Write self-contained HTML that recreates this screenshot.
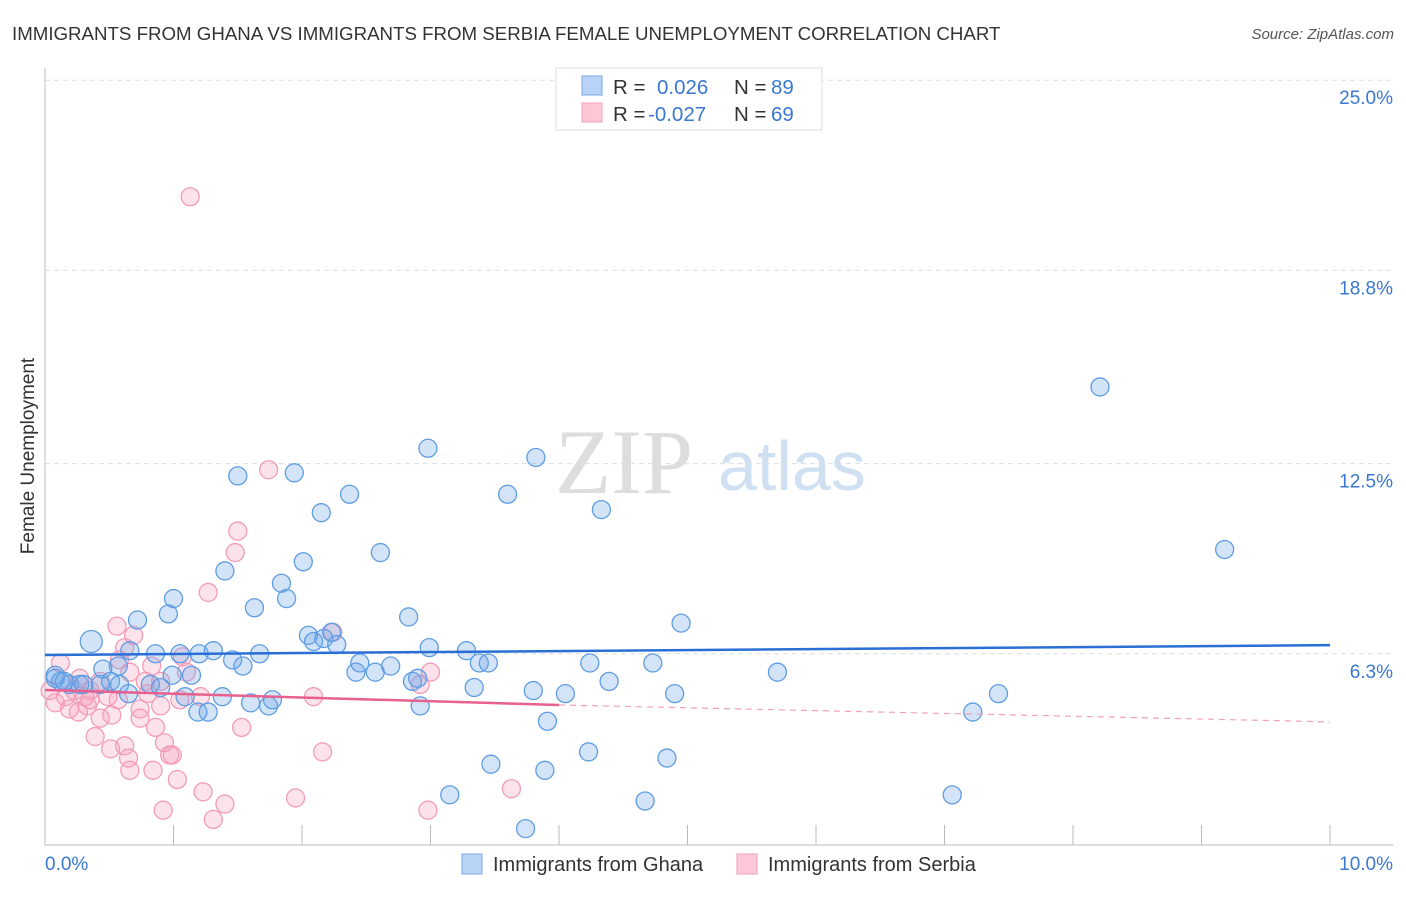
<!DOCTYPE html>
<html><head><meta charset="utf-8"><style>
body{margin:0;background:#fff;font-family:"Liberation Sans",sans-serif}
</style></head><body>
<svg width="1406" height="892" xmlns="http://www.w3.org/2000/svg" style="font-family:'Liberation Sans',sans-serif">
<text x="12" y="40" font-size="18.7" fill="#333">IMMIGRANTS FROM GHANA VS IMMIGRANTS FROM SERBIA FEMALE UNEMPLOYMENT CORRELATION CHART</text>
<text x="1394" y="39" font-size="15" fill="#555" font-style="italic" text-anchor="end">Source: ZipAtlas.com</text>
<g>
<text x="555" y="493" font-size="92" font-family="Liberation Serif" fill="#ddd">ZIP</text>
<text x="718" y="490" font-size="70" fill="#cfe0f3">atlas</text>
</g>
<g id="grid"></g>
<g id="axes"></g>
<g id="pts"></g>
<g id="trend"></g>
<text x="34" y="456" font-size="19" fill="#333" transform="rotate(-90 34 456)" text-anchor="middle">Female Unemployment</text>
<g>
<rect x="556" y="68" width="266" height="62" fill="#fff" stroke="#ddd"/>
<rect x="582" y="76" width="20" height="19" fill="#b8d3f5" stroke="#7aaae6"/>
<rect x="582" y="103" width="20" height="19" fill="#fcc8d8" stroke="#f0a0bb"/>
<text x="613" y="94" font-size="20.5" fill="#333">R = </text><text x="657" y="94" font-size="20.5" fill="#3a78d0">0.026</text>
<text x="734" y="94" font-size="20.5" fill="#333">N = </text><text x="771" y="94" font-size="20.5" fill="#3a78d0">89</text>
<text x="613" y="121" font-size="20.5" fill="#333">R = </text><text x="648" y="121" font-size="20.5" fill="#3a78d0">-0.027</text>
<text x="734" y="121" font-size="20.5" fill="#333">N = </text><text x="771" y="121" font-size="20.5" fill="#3a78d0">69</text>
</g>
<g>
<rect x="462" y="854" width="20" height="20" fill="#b8d3f5" stroke="#7aaae6"/>
<text x="493" y="871" font-size="20" fill="#333">Immigrants from Ghana</text>
<rect x="737" y="854" width="20" height="20" fill="#fcc8d8" stroke="#f0a0bb"/>
<text x="768" y="871" font-size="20" fill="#333">Immigrants from Serbia</text>
</g>
</svg>
<script>
const yTicks=[25.0,18.8,12.5,6.3];
const yTickLabels=["25.0%","18.8%","12.5%","6.3%"];
const xTickLabels=["0.0%","10.0%"];
const ghanaX=[0.36,0.08,0.12,0.19,0.27,0.43,0.51,0.57,0.45,0.66,0.72,0.86,0.96,1.0,1.05,1.09,1.14,1.19,1.27,1.31,1.38,1.4,1.46,1.5,1.54,1.6,1.63,1.67,1.74,1.77,1.84,1.88,1.94,2.01,2.05,2.09,2.15,2.17,2.23,2.27,2.37,2.42,2.45,2.57,2.61,2.69,2.83,2.86,2.92,2.98,2.99,3.28,3.34,3.38,3.45,3.47,3.6,3.8,3.82,3.89,3.91,4.05,4.23,4.24,4.33,4.39,4.67,4.73,4.84,4.9,4.95,5.7,7.06,7.22,7.42,8.21,9.18,3.15,3.74,0.08,0.82,0.9,0.65,0.58,0.15,0.3,0.99,1.2,2.9];
const ghanaY=[6.7,5.6,5.4,5.3,5.3,5.3,5.4,5.9,5.8,6.4,7.4,6.3,7.6,8.1,6.3,4.9,5.6,4.4,4.4,6.4,4.9,9.0,6.1,12.1,5.9,4.7,7.8,6.3,4.6,4.8,8.6,8.1,12.2,9.3,6.9,6.7,10.9,6.8,7.0,6.6,11.5,5.7,6.0,5.7,9.6,5.9,7.5,5.4,4.6,13.0,6.5,6.4,5.2,6.0,6.0,2.7,11.5,5.1,12.7,2.5,4.1,5.0,3.1,6.0,11.0,5.4,1.5,6.0,2.9,5.0,7.3,5.7,1.7,4.4,5.0,15.0,9.7,1.7,0.6,5.5,5.3,5.2,5.0,5.3,5.4,5.3,5.6,6.3,5.5];
const serbiaX=[1.13,1.74,1.5,1.48,1.27,0.56,0.69,0.62,0.58,0.66,0.83,0.9,1.07,1.1,1.05,0.9,0.8,0.74,0.57,0.52,0.43,0.39,0.33,0.26,0.19,0.16,0.08,0.12,0.04,0.23,0.35,0.49,0.74,0.86,0.93,0.97,0.99,0.62,0.51,0.65,0.66,0.84,1.03,1.23,1.4,1.31,0.92,1.53,1.95,2.09,2.16,2.24,2.92,3.0,2.98,3.63,0.35,0.43,0.27,0.78,1.21,0.31];
const serbiaY=[21.2,12.3,10.3,9.6,8.3,7.2,6.9,6.5,6.1,5.7,5.9,5.4,6.2,5.7,4.8,4.6,5.0,4.5,4.8,4.3,4.2,3.6,4.6,4.4,4.5,4.9,4.7,6.0,5.1,5.1,5.1,4.9,4.2,3.9,3.4,3.0,3.0,3.3,3.2,2.9,2.5,2.5,2.2,1.8,1.4,0.9,1.2,3.9,1.6,4.9,3.1,7.0,5.3,5.7,1.2,1.9,4.8,5.4,5.5,5.4,4.9,4.9];
const ghanaR=ghanaX.map((_,i)=>i===0?11:9);
const NS='http://www.w3.org/2000/svg';
const X0=45,X1=1330,Y0=847,YPX=191.7/6.25;
const sx=v=>X0+(v/10)*(X1-X0), sy=v=>Y0-v*YPX;
function mk(t,a,p){const e=document.createElementNS(NS,t);for(const k in a)e.setAttribute(k,a[k]);p.appendChild(e);return e;}
const grid=document.getElementById('grid'),axes=document.getElementById('axes'),pts=document.getElementById('pts'),tr=document.getElementById('trend');
yTicks.forEach((v,i)=>{
 const l=mk('line',{x1:45,x2:1393,y1:sy(v),y2:sy(v),stroke:'#ddd','stroke-dasharray':'5,4'},grid);
 
 
 const t=mk('text',{x:1393,y:sy(v)+24,'font-size':19,fill:'#3a78d0','text-anchor':'end'},axes);
 t.textContent=yTickLabels[i];
 
 
});
mk('line',{x1:45,x2:45,y1:68,y2:845,stroke:'#bbb'},axes);
mk('line',{x1:45,x2:1393,y1:845,y2:845,stroke:'#bbb'},axes);
for(let i=1;i<=10;i++){const x=sx(i);mk('line',{x1:x,x2:x,y1:825,y2:845,stroke:'#bbb'},axes);}
const xl0=mk('text',{x:45,y:870,'font-size':19,fill:'#3a78d0'},axes);xl0.textContent=xTickLabels[0];


const xl1=mk('text',{x:1393,y:870,'font-size':19,fill:'#3a78d0','text-anchor':'end'},axes);xl1.textContent=xTickLabels[1];


serbiaX.forEach((v,i)=>{const c=mk('circle',{cx:sx(v),cy:sy(serbiaY[i]),r:9,fill:'rgba(244,160,188,0.3)',stroke:'#f29cb8','stroke-width':1.3},pts);
 
 });
ghanaX.forEach((v,i)=>{const c=mk('circle',{cx:sx(v),cy:sy(ghanaY[i]),r:ghanaR[i],fill:'rgba(110,165,232,0.3)',stroke:'#5f9de2','stroke-width':1.3},pts);
 
 });
const g1=mk('line',{x1:sx(0),y1:sy(6.26),x2:sx(10),y2:sy(6.58),stroke:'#2a6fd6','stroke-width':2.5},tr);


const s1=mk('line',{x1:sx(0),y1:sy(5.12),x2:sx(4),y2:sy(4.63),stroke:'#e8608e','stroke-width':2.5},tr);


const s2=mk('line',{x1:sx(4),y1:sy(4.63),x2:sx(10),y2:sy(4.08),stroke:'#f0a0bb','stroke-width':1.2,'stroke-dasharray':'6,5'},tr);


</script>
</body></html>
